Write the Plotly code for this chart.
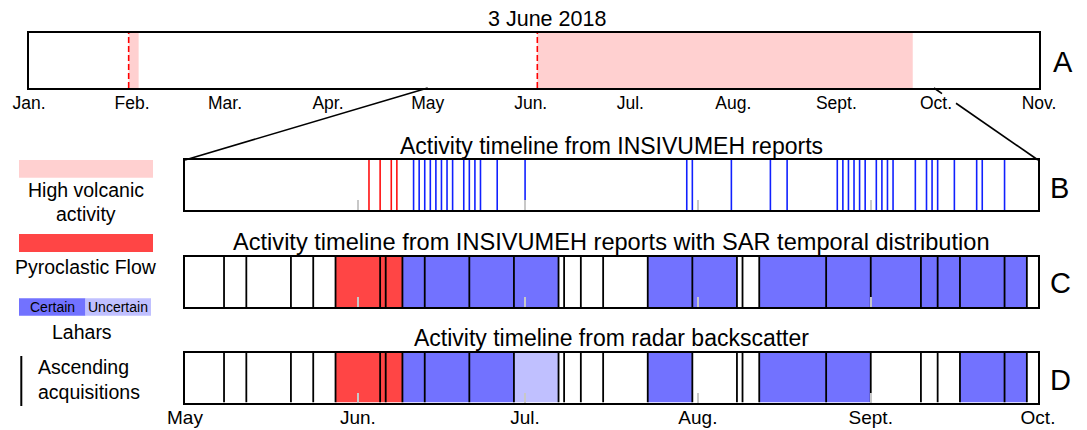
import plotly.graph_objects as go
import pandas as pd

W, H = 1087, 430
FONT = "Liberation Sans, Arial, sans-serif"

# ---------------- data ----------------
# Panel A (whole year)
months_a = ['2018-01-01', '2018-02-01', '2018-03-01', '2018-04-01', '2018-05-01', '2018-06-01',
            '2018-07-01', '2018-08-01', '2018-09-01', '2018-10-01', '2018-11-01']
months_a_text = ['Jan.', 'Feb.', 'Mar.', 'Apr.', 'May', 'Jun.', 'Jul.', 'Aug.', 'Sept.', 'Oct.', 'Nov.']
high_start = ['2018-01-31', '2018-06-03']
high_end = ['2018-02-03', '2018-09-24']
eruption_dates = ['2018-01-31', '2018-06-03']

# Panel B (INSIVUMEH reports)
pf_reports = ['2018-06-03', '2018-06-05', '2018-06-07', '2018-06-08']
lahar_reports = ['2018-06-11', '2018-06-12', '2018-06-13', '2018-06-14', '2018-06-15', '2018-06-16',
                 '2018-06-17', '2018-06-18', '2018-06-20', '2018-06-21', '2018-06-22', '2018-06-23',
                 '2018-06-26', '2018-07-01', '2018-07-30', '2018-07-31', '2018-08-07', '2018-08-14',
                 '2018-08-17', '2018-08-26', '2018-08-27', '2018-08-28', '2018-08-29', '2018-08-30',
                 '2018-08-31', '2018-09-02', '2018-09-03', '2018-09-04', '2018-09-05', '2018-09-09',
                 '2018-09-11', '2018-09-12', '2018-09-13', '2018-09-16', '2018-09-20', '2018-09-21',
                 '2018-09-25']

# Panels C and D (SAR acquisitions and interval classes)
sar_dates = ['2018-05-08', '2018-05-12', '2018-05-20', '2018-05-24', '2018-05-28', '2018-06-05',
             '2018-06-06', '2018-06-09', '2018-06-13', '2018-06-21', '2018-06-29', '2018-07-07',
             '2018-07-08', '2018-07-11', '2018-07-15', '2018-07-23', '2018-07-31', '2018-08-08',
             '2018-08-09', '2018-08-12', '2018-08-24', '2018-09-01', '2018-09-10', '2018-09-13',
             '2018-09-17', '2018-09-25', '2018-09-29']
c_classes = ['none'] * 5 + ['pf'] * 3 + ['lahar'] * 4 + ['none'] * 4 + ['lahar'] * 2 + \
            ['none'] * 2 + ['lahar'] * 7 + ['none']
d_classes = ['none'] * 5 + ['pf'] * 3 + ['lahar'] * 3 + ['uncertain'] + ['none'] * 4 + \
            ['lahar'] + ['none'] * 3 + ['lahar'] * 2 + ['none'] * 3 + ['lahar'] * 2 + ['none']

months_b = ['2018-05-01', '2018-06-01', '2018-07-01', '2018-08-01', '2018-09-01', '2018-10-01']
months_b_text = ['May', 'Jun.', 'Jul.', 'Aug.', 'Sept.', 'Oct.']

panel_titles = ['Activity timeline from INSIVUMEH reports',
                'Activity timeline from INSIVUMEH reports with SAR temporal distribution',
                'Activity timeline from radar backscatter']
panel_letters = ['A', 'B', 'C', 'D']

# ---------------- styles ----------------
PINK = '#FFD0D0'
PF = '#FF4545'
LAHAR = '#7272FF'
UNC = '#C0C0FF'
class_colors = {'pf': PF, 'lahar': LAHAR, 'uncertain': UNC}


def px(x):
    return x / W


def py(y):
    return 1 - y / H


def ms(a, b):
    return [(pd.Timestamp(e) - pd.Timestamp(s)).total_seconds() * 1000 for s, e in zip(a, b)]


def vlines(dates):
    xs, ys = [], []
    for d in dates:
        xs += [d, d, None]
        ys += [0, 1, None]
    return xs, ys


fig = go.Figure()

# Panel A
fig.add_trace(go.Bar(orientation='h', base=high_start, x=ms(high_start, high_end), y=[0.5] * len(high_start),
                     width=1, marker=dict(color=PINK, line=dict(width=0)), xaxis='x', yaxis='y',
                     hoverinfo='skip'))
xs, ys = vlines(eruption_dates)
fig.add_trace(go.Scatter(x=xs, y=ys, mode='lines', line=dict(color='#FF0000', width=1.6, dash='6px,3px'),
                         xaxis='x', yaxis='y', hoverinfo='skip'))

# Panel B
xs, ys = vlines(pf_reports)
fig.add_trace(go.Scatter(x=xs, y=ys, mode='lines', line=dict(color='#FF1010', width=1.6),
                         xaxis='x2', yaxis='y2', hoverinfo='skip'))
xs, ys = vlines(lahar_reports)
fig.add_trace(go.Scatter(x=xs, y=ys, mode='lines', line=dict(color='#1020FF', width=1.6),
                         xaxis='x2', yaxis='y2', hoverinfo='skip'))

# Panels C, D
starts = ['2018-05-01'] + sar_dates
ends = sar_dates + ['2018-10-01']
for classes, xa, ya in [(c_classes, 'x3', 'y3'), (d_classes, 'x4', 'y4')]:
    for cls, col in class_colors.items():
        s = [a for a, c in zip(starts, classes) if c == cls]
        e = [b for b, c in zip(ends, classes) if c == cls]
        if not s:
            continue
        fig.add_trace(go.Bar(orientation='h', base=s, x=ms(s, e), y=[0.5] * len(s), width=1,
                             marker=dict(color=col, line=dict(width=0)), xaxis=xa, yaxis=ya,
                             hoverinfo='skip'))
    xs, ys = vlines(sar_dates)
    fig.add_trace(go.Scatter(x=xs, y=ys, mode='lines', line=dict(color='black', width=1.8),
                             xaxis=xa, yaxis=ya, hoverinfo='skip'))

# ---------------- axes ----------------
A_X = (29, 1039)
BX = (185, 1038)
boxes_y = {'y': (32.5, 88), 'y2': (160, 210), 'y3': (256.5, 307), 'y4': (352.5, 402.5)}

common_line = dict(showline=True, mirror=True, linecolor='black', linewidth=2, showgrid=False,
                   zeroline=False, fixedrange=True)

layout = dict(
    width=W, height=H, margin=dict(l=0, r=0, t=0, b=0, autoexpand=False),
    paper_bgcolor='white', plot_bgcolor='white', showlegend=False, barmode='overlay',
    font=dict(family=FONT, color='black'),
)
layout['xaxis'] = dict(domain=[px(A_X[0]), px(A_X[1])], type='date', range=[months_a[0], months_a[-1]],
                       tickmode='array', tickvals=months_a, ticktext=months_a_text, ticks='',
                       ticklabelstandoff=-2,
                       tickfont=dict(size=17.5, family=FONT, color='black'), anchor='y',
                       automargin=False, **common_line)
for i, (xn, yn) in enumerate([('xaxis2', 'y2'), ('xaxis3', 'y3'), ('xaxis4', 'y4')]):
    layout[xn] = dict(domain=[px(BX[0]), px(BX[1])], type='date', range=[months_b[0], months_b[-1]],
                      tickmode='array', tickvals=months_b, ticktext=months_b_text, ticks='inside',
                      ticklen=10, tickwidth=1.6, tickcolor='#C8C8C8',
                      showticklabels=(xn == 'xaxis4'), ticklabelstandoff=-3,
                      tickfont=dict(size=19, family=FONT, color='black'), anchor=yn,
                      automargin=False, **common_line)
for yn, (t, b) in boxes_y.items():
    key = 'yaxis' if yn == 'y' else 'yaxis' + yn[1:]
    layout[key] = dict(domain=[py(b), py(t)], range=[0, 1], showticklabels=False, ticks='',
                       anchor='x' if yn == 'y' else 'x' + yn[1:], automargin=False, **common_line)

fig.update_layout(**layout)

# ---------------- annotations ----------------
ann = []


def text(x, y, s, size, xanchor='center'):
    ann.append(dict(x=px(x), y=py(y), xref='paper', yref='paper', text=s, showarrow=False,
                    xanchor=xanchor, yanchor='middle', font=dict(size=size, family=FONT, color='black')))


text(547, 19.5, '3 June 2018', 21.5)
title_y = [145.5, 242, 338]
title_size = [23, 23.6, 23]
for t, yy, sz in zip(panel_titles, title_y, title_size):
    text((BX[0] + BX[1]) / 2, yy, t, sz)
for L, yy, xx in zip(panel_letters, [62, 187.5, 283, 379.5], [1063, 1059, 1060, 1060]):
    text(xx, yy, L, 29)

# legend texts
text(85.5, 190, 'High volcanic', 19.5)
text(85.5, 213.5, 'activity', 19.5)
text(85.5, 266.5, 'Pyroclastic Flow', 19.5)
text(52.5, 307, 'Certain', 14)
text(117.5, 307, 'Uncertain', 14)
text(82, 331.5, 'Lahars', 19.5)
text(36, 367, 'Ascending', 19.5, 'left')
text(36, 391.5, 'acquisitions', 19.5, 'left')
fig.update_layout(annotations=ann)

# ---------------- shapes (legend + zoom connectors) ----------------
shapes = []


def rect(x0, y0, x1, y1, col):
    shapes.append(dict(type='rect', xref='paper', yref='paper', x0=px(x0), x1=px(x1), y0=py(y1), y1=py(y0),
                       fillcolor=col, line=dict(width=0), layer='above'))


def seg(x0, y0, x1, y1, w=1.6):
    shapes.append(dict(type='line', xref='paper', yref='paper', x0=px(x0), x1=px(x1), y0=py(y0), y1=py(y1),
                       line=dict(color='black', width=w), layer='above'))


rect(19, 160, 153, 177.7, PINK)
rect(19, 234, 153, 252, PF)
rect(19, 298.3, 85.5, 315.7, LAHAR)
rect(85.5, 298.3, 151, 315.7, UNC)
seg(21.3, 356, 21.3, 406, 2)


def a_pos(d):
    t0, t1 = pd.Timestamp(months_a[0]), pd.Timestamp(months_a[-1])
    return A_X[0] + (pd.Timestamp(d) - t0) / (t1 - t0) * (A_X[1] - A_X[0])


yA = boxes_y['y'][1]
yB = boxes_y['y2'][0]
seg(a_pos(months_b[0]), yA, BX[0], yB)
x0o = a_pos(months_b[-1]) - 2
slope = (yB - yA) / (BX[1] - x0o)
seg(x0o, yA, x0o + 8, yA + 8 * slope)
seg(x0o + 22, yA + 22 * slope, BX[1], yB)
fig.update_layout(shapes=shapes)

fig.write_html('out.html', config={'displayModeBar': False},
               post_script="document.body.style.margin='0px';document.body.style.padding='0px';"
                           "document.body.style.overflow='hidden';")
